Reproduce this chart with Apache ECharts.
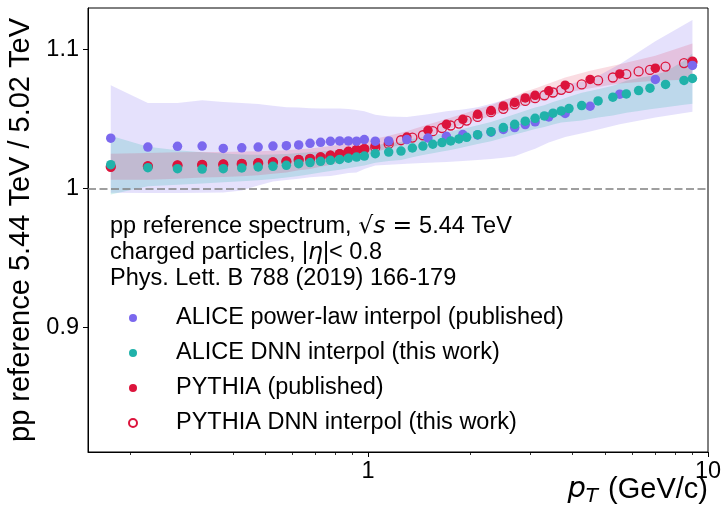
<!DOCTYPE html>
<html><head><meta charset="utf-8">
<script src="https://cdn.jsdelivr.net/npm/echarts@6/dist/echarts.min.js"></script>
<style>html,body{margin:0;padding:0;background:#fff}#c{width:722px;height:518px}</style>
</head><body><div id="c"></div>
<script>
// ---- data ----
const ptPub = [0.175,0.225,0.275,0.325,0.375,0.425,0.475,0.525,0.575,0.625,0.675,0.725,0.775,0.825,0.875,0.925,0.975,1.05,1.15,1.3,1.5,1.7,1.9,2.1,2.3,2.5,2.7,2.9,3.1,3.4,3.8,4.5,5.5,7.0,9.0];
const alicePub = [1.0362,1.0298,1.0303,1.0305,1.0288,1.0292,1.0298,1.0305,1.0308,1.0313,1.0325,1.0332,1.0339,1.0342,1.0342,1.034,1.0352,1.034,1.0342,1.0352,1.0363,1.0375,1.0388,1.0385,1.0405,1.0425,1.0438,1.046,1.048,1.0515,1.054,1.0592,1.0679,1.0785,1.0886];
const alicePubLo = [0.9968,0.9966,0.9966,0.9968,0.997,0.9985,1.002,1.005,1.006,1.007,1.008,1.0085,1.009,1.010,1.011,1.0115,1.014,1.0165,1.017,1.0178,1.0185,1.019,1.0198,1.0205,1.0212,1.022,1.0232,1.026,1.0285,1.033,1.037,1.041,1.0462,1.051,1.0552];
const alicePubHi = [1.0744,1.0616,1.0616,1.0635,1.0623,1.0616,1.0608,1.0595,1.0585,1.0583,1.0578,1.0576,1.0575,1.0575,1.0572,1.0565,1.0555,1.053,1.0518,1.0515,1.0535,1.0555,1.0568,1.0585,1.061,1.0635,1.066,1.068,1.07,1.0715,1.075,1.078,1.0895,1.106,1.1213];
const pythiaPub = [1.0157,1.0159,1.0166,1.0171,1.0173,1.0178,1.0183,1.019,1.0195,1.0207,1.0214,1.0226,1.0238,1.025,1.0267,1.0279,1.0286,1.031,1.0335,1.037,1.0419,1.0462,1.0498,1.0534,1.0561,1.0594,1.0619,1.0652,1.0671,1.0703,1.0744,1.0785,1.0825,1.0866,1.0917];
const pythiaPubLo = [1.0063,1.0062,1.007,1.0078,1.0082,1.0088,1.0095,1.0105,1.0115,1.013,1.014,1.0155,1.017,1.0185,1.0205,1.022,1.023,1.0262,1.029,1.0328,1.0378,1.0425,1.046,1.0495,1.052,1.0552,1.0575,1.0605,1.0622,1.065,1.0688,1.0722,1.0755,1.0775,1.0785];
const pythiaPubHi = [1.025,1.0255,1.026,1.0262,1.0262,1.0265,1.0268,1.0272,1.0275,1.0282,1.0288,1.0296,1.0305,1.0314,1.0328,1.0338,1.0342,1.0358,1.038,1.0412,1.046,1.05,1.0536,1.0572,1.06,1.0635,1.0662,1.0698,1.072,1.0756,1.08,1.0848,1.0895,1.0955,1.1045];

const ptDnn = [0.175,0.225,0.275,0.325,0.375,0.425,0.475,0.525,0.575,0.625,0.675,0.725,0.775,0.825,0.875,0.925,0.975,1.05,1.15,1.25,1.35,1.45,1.55,1.65,1.75,1.85,1.95,2.1,2.3,2.5,2.7,2.9,3.1,3.3,3.5,3.7,3.9,4.25,4.75,5.25,5.75,6.25,6.75,7.5,8.5,9.0];
const aliceDnn = [1.0171,1.0149,1.0142,1.0139,1.0142,1.0147,1.0154,1.0159,1.0166,1.0178,1.0186,1.0195,1.0202,1.0209,1.0217,1.0226,1.0233,1.025,1.0262,1.0269,1.0291,1.0305,1.0318,1.033,1.0342,1.0356,1.0368,1.0387,1.0409,1.0438,1.0462,1.0484,1.0505,1.0522,1.0542,1.0558,1.0575,1.0597,1.063,1.0657,1.0681,1.0705,1.0722,1.0749,1.0778,1.0792];
const aliceDnnLo = [0.9955,1.0016,1.0027,1.0036,1.0045,1.0052,1.0058,1.0068,1.0078,1.009,1.0102,1.0115,1.0125,1.0135,1.0145,1.0155,1.0165,1.0185,1.0198,1.0205,1.0225,1.024,1.0253,1.0265,1.0277,1.029,1.0302,1.032,1.034,1.0365,1.0388,1.0408,1.0428,1.0442,1.046,1.0475,1.048,1.049,1.051,1.0525,1.0545,1.0558,1.057,1.0585,1.0602,1.061];
const aliceDnnHi = [1.038,1.03,1.0275,1.026,1.0252,1.0245,1.0243,1.0245,1.0248,1.0255,1.026,1.0266,1.0272,1.0278,1.0285,1.0292,1.03,1.0312,1.0325,1.0335,1.0355,1.037,1.0383,1.0396,1.041,1.0424,1.0436,1.0455,1.0478,1.0508,1.0535,1.056,1.0582,1.06,1.0622,1.064,1.066,1.069,1.0715,1.074,1.0775,1.0795,1.081,1.084,1.092,1.0972];
const pythiaDnn = [1.0155,1.016,1.0165,1.017,1.0172,1.0176,1.0181,1.0188,1.0194,1.0205,1.0212,1.0223,1.0235,1.0246,1.0262,1.0275,1.0283,1.0295,1.032,1.0347,1.0366,1.0383,1.0412,1.0435,1.0453,1.0467,1.0489,1.0515,1.0549,1.0573,1.0606,1.063,1.065,1.0671,1.0691,1.071,1.0724,1.0749,1.0778,1.0799,1.0823,1.0843,1.0854,1.0878,1.0903,1.091];

const xLabelTicks = [1, 10];
const xMinorTicks = [0.2,0.3,0.4,0.5,0.6,0.7,0.8,0.9,2,3,4,5,6,7,8,9];
const yLabelTicks = [0.9, 1, 1.1];

const names = ['ALICE power-law interpol (published)','ALICE DNN interpol (this work)','PYTHIA (published)','PYTHIA DNN interpol (this work)'];
const C_PURPLE = '#7B68EE', C_TEAL = '#20B2AA', C_RED = '#DC143C';
const FONT = 'Liberation Sans, Arial, sans-serif';

function pairs(xs, ys) { return xs.map((x, i) => [x, ys[i]]); }
function band(name, xs, lo, hi, fill) {
  return {
    type: 'custom', name: name, silent: true, clip: true, z: 1,
    encode: { x: 0, y: 1 },
    data: xs.map((x, i) => [x, lo[i], hi[i]]),
    renderItem: function (params, api) {
      if (params.dataIndex !== 0) return null;
      const pts = [];
      for (let i = 0; i < xs.length; i++) pts.push(api.coord([xs[i], hi[i]]));
      for (let i = xs.length - 1; i >= 0; i--) pts.push(api.coord([xs[i], lo[i]]));
      return { type: 'polygon', shape: { points: pts }, style: { fill: fill } };
    }
  };
}

const chart = echarts.init(document.getElementById('c'), null, { renderer: 'canvas' });
const xCommon = { type: 'log', logBase: 10, min: 0.15, max: 10, splitLine: { show: false } };
chart.setOption({
  animation: false,
  backgroundColor: '#fff',
  textStyle: { fontFamily: FONT },
  grid: { left: 88, top: 8, right: 14, bottom: 66, show: true, borderColor: '#000', borderWidth: 1, backgroundColor: 'transparent', containLabel: false, outerBoundsMode: 'none' },
  xAxis: [
    Object.assign({}, xCommon, {
      position: 'bottom',
      axisLine: { show: true, lineStyle: { color: '#000', width: 1 } },
      axisTick: { show: true, length: 5, customValues: xLabelTicks, lineStyle: { color: '#000', width: 1 } },
      axisLabel: { show: true, customValues: xLabelTicks, fontSize: 23.5, color: '#000', margin: 8, fontFamily: FONT, formatter: v => String(v) }
    }),
    Object.assign({}, xCommon, {
      position: 'bottom', offset: 0,
      axisLine: { show: false },
      axisTick: { show: true, length: 3, customValues: xMinorTicks, lineStyle: { color: '#000', width: 0.8 } },
      axisLabel: { show: false }
    })
  ],
  yAxis: {
    type: 'value', min: 0.81, max: 1.13,
    name: 'pp reference 5.44 TeV / 5.02 TeV',
    nameLocation: 'middle', nameGap: 48, nameRotate: 90,
    nameTextStyle: { fontSize: 29, color: '#000', fontFamily: FONT },
    splitLine: { show: false },
    axisLine: { show: true, lineStyle: { color: '#000', width: 1 } },
    axisTick: { show: true, length: 5, customValues: yLabelTicks, lineStyle: { color: '#000', width: 1 } },
    axisLabel: { show: true, customValues: yLabelTicks, fontSize: 23.5, color: '#000', margin: 9, fontFamily: FONT, formatter: v => String(+v.toFixed(2)) }
  },
  legend: {
    data: names, orient: 'vertical', left: 123, top: 301,
    itemWidth: 76, itemHeight: 8, itemGap: 11,
    textStyle: { fontSize: 23.5, color: '#000', fontFamily: FONT },
    selectedMode: false
  },
  graphic: [
    { type: 'text', left: 110, top: 215, silent: true, style: {
      text: 'pp reference spectrum, {m|√}{mi|s}{eq|=}5.44 TeV', font: '23.5px ' + FONT, fill: '#000',
      rich: { m: { fontFamily: 'DejaVu Sans', fontSize: 23.5 },
              mi: { fontFamily: 'DejaVu Sans', fontStyle: 'italic', fontSize: 23.5 },
              eq: { fontFamily: 'DejaVu Sans', fontSize: 23.5, padding: [0, 7, 0, 7] } } } },
    { type: 'text', left: 110, top: 241, silent: true, style: {
      text: 'charged particles, |{mi|η}|< 0.8', font: '23.5px ' + FONT, fill: '#000',
      rich: { mi: { fontFamily: 'DejaVu Sans', fontStyle: 'italic', fontSize: 23.5 } } } },
    { type: 'text', left: 110, top: 267, silent: true, style: {
      text: 'Phys. Lett. B 788 (2019) 166-179', font: '23.5px ' + FONT, fill: '#000' } },
    { type: 'text', right: 14, top: 475, silent: true, style: {
      text: '{i|p}{s|T} (GeV/c)', font: '29px ' + FONT, fill: '#000',
      rich: { i: { fontSize: 29, fontStyle: 'italic', fontFamily: 'DejaVu Sans' },
              s: { fontSize: 20, fontStyle: 'italic', fontFamily: 'DejaVu Sans', padding: [14, 2, 0, 0] } } } }
  ],
  series: [
    band('bandAlicePub', ptPub, alicePubLo, alicePubHi, 'rgba(123,104,238,0.2)'),
    band('bandAliceDnn', ptDnn, aliceDnnLo, aliceDnnHi, 'rgba(32,178,170,0.2)'),
    band('bandPythia', ptPub, pythiaPubLo, pythiaPubHi, 'rgba(220,20,60,0.15)'),
    { type: 'scatter', name: names[2], data: pairs(ptPub, pythiaPub), symbol: 'circle', symbolSize: 9.5, z: 3,
      itemStyle: { color: C_RED, opacity: 1 },
      markLine: { silent: true, symbol: ['none', 'none'], label: { show: false }, z: 2,
        lineStyle: { color: '#808080', type: [8, 3.5], width: 1.6 }, data: [{ yAxis: 1 }] } },
    { type: 'scatter', name: names[3], data: pairs(ptDnn, pythiaDnn), symbol: 'circle', symbolSize: 9, z: 3,
      itemStyle: { color: 'rgba(255,255,255,0)', borderColor: C_RED, borderWidth: 1.3, opacity: 1 } },
    { type: 'scatter', name: names[0], data: pairs(ptPub, alicePub), symbol: 'circle', symbolSize: 9.5, z: 3,
      itemStyle: { color: C_PURPLE, opacity: 1 } },
    { type: 'scatter', name: names[1], data: pairs(ptDnn, aliceDnn), symbol: 'circle', symbolSize: 9.5, z: 3,
      itemStyle: { color: C_TEAL, opacity: 1 } }
  ]
});
</script>
</body></html>
